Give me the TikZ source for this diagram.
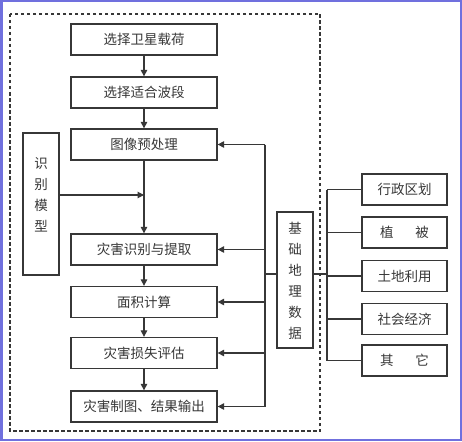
\documentclass[tikz,border=0pt]{standalone}
\usepackage{fontspec}
\setmainfont{Noto Sans CJK SC}
\usetikzlibrary{arrows.meta}
\definecolor{framec}{RGB}{112,112,222}
\definecolor{linec}{RGB}{55,55,55}
\begin{document}
\begin{tikzpicture}[x=1pt,y=-1pt,
  box/.style={draw=linec, line width=1.3pt, minimum width=146pt, minimum height=31pt, inner sep=0pt, font=\fontsize{13.5}{15}\selectfont, text=linec},
  rbox/.style={box, minimum width=85pt},
  vbox/.style={draw=linec, line width=1.3pt, minimum width=36pt, inner sep=0pt},
  vtext/.style={align=center, font=\fontsize{13.5}{21}\selectfont, text=linec, inner sep=0pt},
  conn/.style={draw=linec, line width=1.1pt},
  arr/.style={conn, -{Triangle[length=6.5pt,width=6.5pt]}}]
\useasboundingbox (0,0) rectangle (462,441);
\fill[white] (0,0) rectangle (462,441);
\draw[framec, line width=2.5pt] (1.25,1.25) rectangle (460.75,439.75);
\draw[linec, line width=1.1pt, dash pattern=on 3.5pt off 2.5pt] (10,14) rectangle (320,431);
% main flow
\node[box] (b1) at (144,39.5) {选择卫星载荷};
\node[box] (b2) at (144,92.5) {选择适合波段};
\node[box] (b3) at (144,144.5) {图像预处理};
\node[box] (b4) at (144,249.5) {灾害识别与提取};
\node[box] (b5) at (144,302) {面积计算};
\node[box] (b6) at (144,353) {灾害损失评估};
\node[box] (b7) at (144,406.5) {灾害制图、结果输出};
\draw[arr] (b1) -- (b2);
\draw[arr] (b2) -- (b3);
\draw[arr] (b3) -- (b4);
\draw[arr] (b4) -- (b5);
\draw[arr] (b5) -- (b6);
\draw[arr] (b6) -- (b7);
% model
\node[vbox, minimum height=142pt] (model) at (41,204) {};
\node[vtext] (modeltxt) at (41,195) {识\\别\\模\\型};
\coordinate (j1) at (144,195);
\draw[arr] (model.east |- j1) -- (j1);
% base geographic data
\node[vbox, minimum height=136pt] (geo) at (295,280) {};
\node[vtext] (geotxt) at (295,281) {基\\础\\地\\理\\数\\据};
\coordinate (s1) at (265,144.5);
\coordinate (s2) at (265,406.5);
\coordinate (s3) at (265,274);
\draw[conn] (s1) -- (s2);
\draw[arr] (s1) -- (b3.east);
\draw[arr] (s1 |- b4.east) -- (b4.east);
\draw[arr] (s1 |- b5.east) -- (b5.east);
\draw[arr] (s1 |- b6.east) -- (b6.east);
\draw[arr] (s2) -- (b7.east);
\draw[conn] (s3) -- (s3 -| geo.west);
% right boxes
\node[rbox] (r1) at (404.5,189.5) {行政区划};
\node[rbox] (r2) at (404.5,232.5) {植\hspace{1.6em}被};
\node[rbox] (r3) at (404.5,276) {土地利用};
\node[rbox] (r4) at (404.5,319) {社会经济};
\node[rbox] (r5) at (404.5,360.5) {其\hspace{1.6em}它};
\coordinate (t1) at (327,189.5);
\coordinate (t5) at (327,360.5);
\coordinate (t3) at (327,274);
\draw[conn] (t1) -- (t5);
\draw[conn] (geo.east |- t3) -- (t3);
\draw[conn] (t1) -- (r1.west);
\draw[conn] (t1 |- r2.west) -- (r2.west);
\draw[conn] (t1 |- r3.west) -- (r3.west);
\draw[conn] (t1 |- r4.west) -- (r4.west);
\draw[conn] (t5) -- (r5.west);
\end{tikzpicture}
\end{document}
